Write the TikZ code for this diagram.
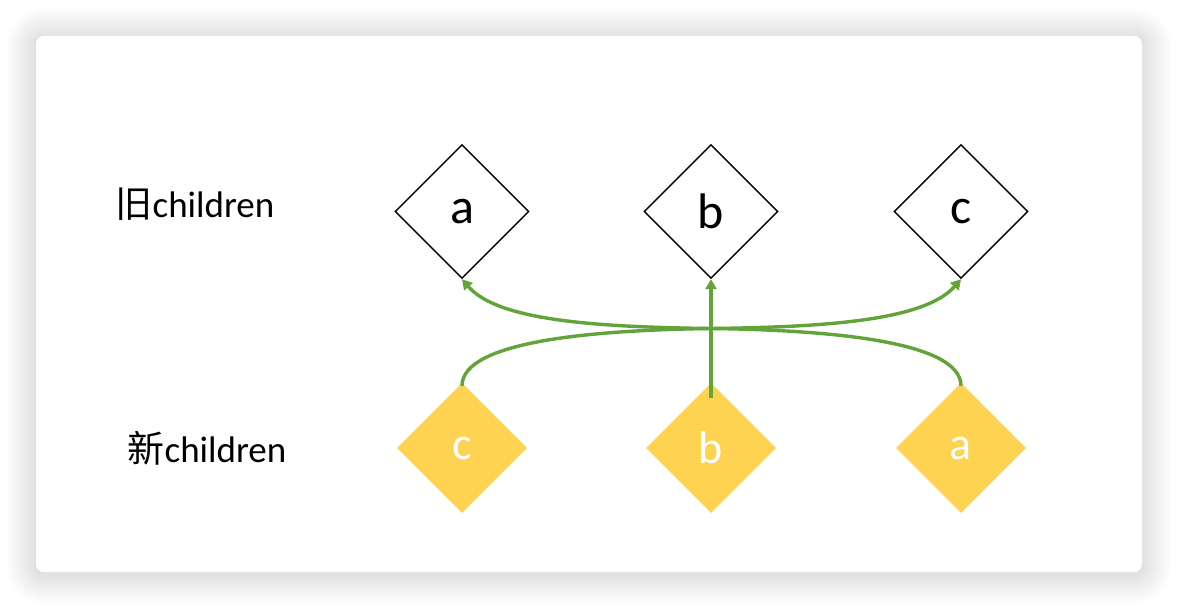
\documentclass[tikz,border=0pt]{standalone}
\usepackage{fontspec}
\setmainfont{Carlito}
\newfontfamily\cjk{Noto Sans CJK SC}
\usetikzlibrary{shapes.geometric,arrows.meta}
\definecolor{grn}{RGB}{98,163,58}
\definecolor{yel}{RGB}{255,211,82}
\tikzset{
  olddia/.style={diamond,draw=black,line width=1.4pt,fill=white,minimum width=134pt,minimum height=134pt,inner sep=0pt,font=\fontsize{50}{54}\selectfont},
  newdia/.style={diamond,fill=yel,minimum width=130pt,minimum height=130pt,inner sep=0pt,text=white,font=\fontsize{46}{50}\selectfont},
  lbl/.style={font=\fontsize{37}{42}\selectfont,inner sep=0pt},
  link/.style={draw=grn,line width=3.4pt,-{Triangle[length=10pt,width=11pt]}}
}
\begin{document}
\begin{tikzpicture}[x=1pt,y=-1pt]
\useasboundingbox (0,0) rectangle (1178,608);
\fill[white] (0,0) rectangle (1178,608);
\foreach \i in {1,...,30}{
  \fill[black,opacity=0.005,rounded corners=8pt+\i pt] (36-\i,38-\i) rectangle (1142+\i,574+\i);
}
\fill[white,rounded corners=8pt] (36,36) rectangle (1142,572);
\node[lbl] (oldlbl) at (195,204) {{\cjk 旧}children};
\node[lbl] (newlbl) at (207,448) {{\cjk 新}children};
\node[olddia] (oa) at (462,211.5) {a};
\node[olddia] (ob) at (711,211.5) {b};
\node[olddia] (oc) at (961,211.5) {c};
\node[newdia] (nc) at (462,448) {c};
\node[newdia] (nb) at (711,448) {b};
\node[newdia] (na) at (961,448) {a};
\coordinate (cs) at ([yshift=-3pt]nc.north);
\coordinate (as) at ([yshift=-3pt]na.north);
\coordinate (bs) at ([yshift=-15pt]nb.north);
\coordinate (mid) at (711,328.5);
\draw[link] (cs) .. controls (462,340) and (600,330) .. (mid) .. controls (830,327) and (925,320) .. (oc.south);
\draw[link] (as) .. controls (961,340) and (822,330) .. (mid) .. controls (592,327) and (497,320) .. (oa.south);
\draw[link] (bs) -- (ob.south);
\end{tikzpicture}
\end{document}
